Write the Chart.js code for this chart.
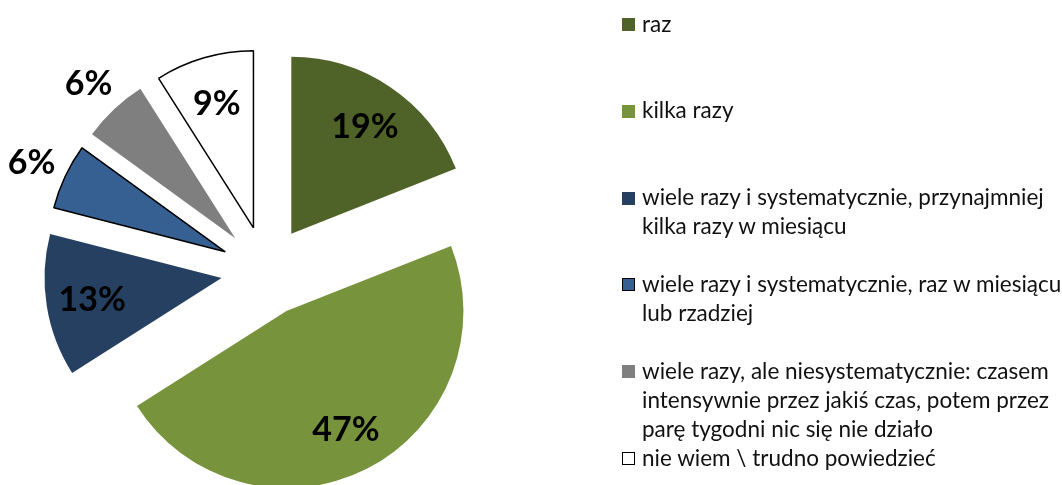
<!DOCTYPE html>
<html>
<head>
<meta charset="utf-8">
<script src="https://cdn.jsdelivr.net/npm/chart.js@4"></script>
<style>
  html, body { margin: 0; padding: 0; background: #fff; }
  #wrap { position: relative; width: 1062px; height: 485px; overflow: hidden; }
  #wykres { position: absolute; left: 0; top: 0; }
  #legenda { position: absolute; left: 622px; top: 0; width: 460px; font-family: Lato, sans-serif; font-size: 22.5px; color: #111; }
  .poz { position: absolute; left: 0; display: flex; align-items: flex-start; }
  .kw { flex: none; width: 13px; height: 13px; box-sizing: border-box; margin-top: 8px; margin-right: 7px; }
  .tekst { position: relative; top: -1.5px; line-height: 29px; width: 430px; }
</style>
</head>
<body>
<div id="wrap">
  <canvas id="wykres" width="1062" height="485"></canvas>
  <div id="legenda"></div>
</div>
<script>
// Dane
const kategorie = [
  'raz',
  'kilka razy',
  'wiele razy i systematycznie, przynajmniej kilka razy w miesiącu',
  'wiele razy i systematycznie, raz w miesiącu lub rzadziej',
  'wiele razy, ale niesystematycznie: czasem intensywnie przez jakiś czas, potem przez parę tygodni nic się nie działo',
  'nie wiem \\ trudno powiedzieć'
];
const procenty = [19, 47, 13, 6, 6, 9];
const kolory = ['#4F6228', '#77933C', '#254061', '#376092', '#7F7F7F', '#FFFFFF'];
const ramki = [0, 0, 0, 1.5, 0, 1.5];

const wysuniecie = 45;

// Legenda
const legenda = document.getElementById('legenda');
kategorie.forEach((nazwa, i) => {
  const poz = document.createElement('div');
  poz.className = 'poz';
  poz.style.top = (10 + 86.8 * i) + 'px';
  const kw = document.createElement('div');
  kw.className = 'kw';
  kw.style.background = kolory[i];
  if (ramki[i]) kw.style.border = '1.5px solid #000';
  const t = document.createElement('div');
  t.className = 'tekst';
  t.textContent = nazwa;
  poz.appendChild(kw);
  poz.appendChild(t);
  legenda.appendChild(poz);
});

// Wysuniete kawalki
const rozsun = {
  id: 'rozsun',
  afterDatasetUpdate(chart, args) {
    args.meta.data.forEach(arc => {
      const kat = (arc.startAngle + arc.endAngle) / 2;
      arc.x += Math.cos(kat) * wysuniecie;
      arc.y += Math.sin(kat) * wysuniecie;
    });
  }
};

// Etykiety z procentami
const etykiety = {
  id: 'etykiety',
  afterDatasetsDraw(chart) {
    const ctx = chart.ctx;
    const meta = chart.getDatasetMeta(0);
    ctx.save();
    ctx.font = 'bold 34px Lato';
    ctx.fillStyle = '#000';
    ctx.textAlign = 'center';
    ctx.textBaseline = 'middle';
    meta.data.forEach((arc, i) => {
      const kat = (arc.startAngle + arc.endAngle) / 2;
      const r = arc.outerRadius * (procenty[i] < 7 ? 1.21 : 0.74);
      ctx.fillText(procenty[i] + '%', arc.x + Math.cos(kat) * r, arc.y + Math.sin(kat) * r + 2);
    });
    ctx.restore();
  }
};

new Chart(document.getElementById('wykres'), {
  type: 'pie',
  data: {
    labels: kategorie,
    datasets: [{
      data: procenty,
      backgroundColor: kolory,
      borderColor: '#000',
      borderWidth: ramki
    }]
  },
  options: {
    responsive: false,
    animation: false,
    events: [],
    layout: { padding: { left: 0, right: 530, top: 93.25, bottom: 36.25 } },
    plugins: { legend: { display: false }, tooltip: { enabled: false } }
  },
  plugins: [rozsun, etykiety]
});
</script>
</body>
</html>
